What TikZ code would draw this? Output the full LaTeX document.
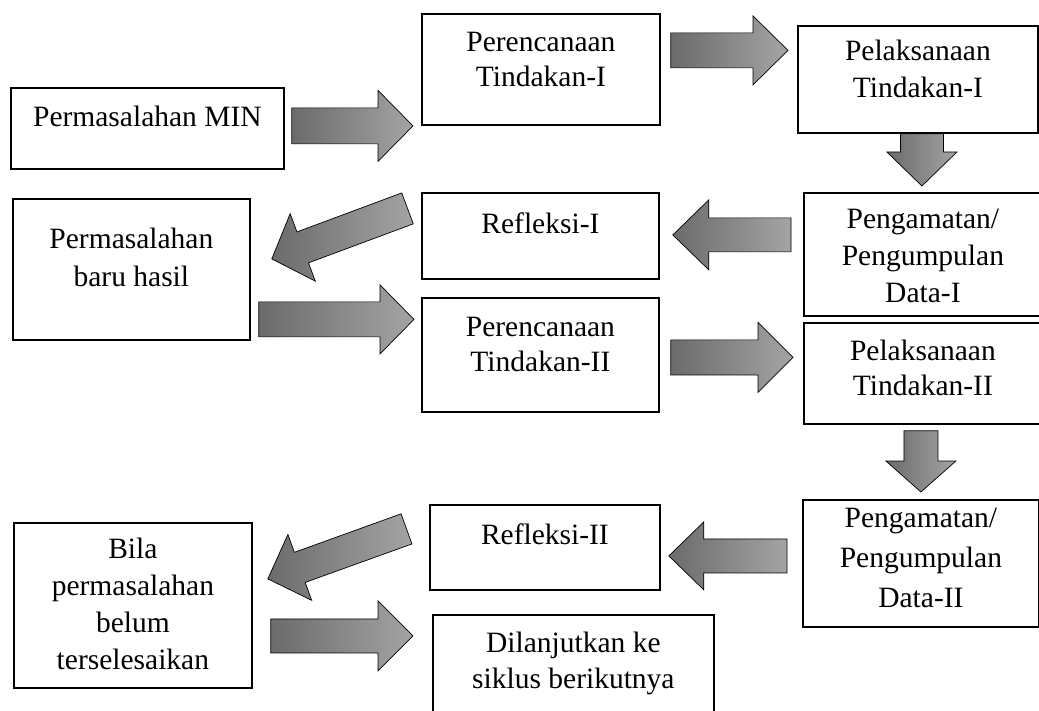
\documentclass[tikz,border=0pt]{standalone}
\usepackage{fontspec}
\setmainfont{Liberation Serif}
\usetikzlibrary{calc}
\definecolor{arrdark}{HTML}{6B6B6B}
\definecolor{arrlight}{HTML}{A4A4A4}
% block arrow: [opts]{tail}{tip}{shaft half width}{head half width}{head length}
\newcommand{\bkarrow}[6][]{%
  \coordinate (ba-h) at ($(#3)!#6!(#2)$);
  \path[barrow,#1] ($(#2)!#4!90:(#3)$) -- ($(ba-h)!#4!90:(#3)$) -- ($(ba-h)!#5!90:(#3)$)
    -- (#3) -- ($(ba-h)!#5!-90:(#3)$) -- ($(ba-h)!#4!-90:(#3)$) -- ($(#2)!#4!-90:(#3)$) -- cycle;
}
\begin{document}
\begin{tikzpicture}[x=1pt,y=-1pt,
  box/.style={draw=black, line width=1.8pt, fill=white, inner sep=0pt, anchor=north west},
  txt/.style={inner sep=0pt, align=center, anchor=north, font=\fontsize{29.5}{37}\selectfont},
  barrow/.style={draw=black, line width=0.7pt, left color=arrdark, right color=arrlight}]
\useasboundingbox (0,0) rectangle (1039,711);
\fill[white] (0,0) rectangle (1039,711);

% boxes
\node[box, minimum width=273pt, minimum height=81pt]  (b1)  at (10,87)   {};
\node[box, minimum width=238pt, minimum height=111pt] (b2)  at (421,13)  {};
\node[box, minimum width=240pt, minimum height=107pt] (b3)  at (797,25)  {};
\node[box, minimum width=238pt, minimum height=123pt] (b4)  at (803,192) {};
\node[box, minimum width=238pt, minimum height=101pt] (b5)  at (803,322) {};
\node[box, minimum width=237pt, minimum height=86pt]  (b6)  at (421,192) {};
\node[box, minimum width=237pt, minimum height=141pt] (b7)  at (12,198)  {};
\node[box, minimum width=237pt, minimum height=114pt] (b8)  at (421,297) {};
\node[box, minimum width=236pt, minimum height=127pt] (b9)  at (802,499) {};
\node[box, minimum width=230pt, minimum height=85pt]  (b10) at (429,504) {};
\node[box, minimum width=281pt, minimum height=105pt] (b11) at (432,614) {};
\node[box, minimum width=238pt, minimum height=165pt] (b12) at (13,522)  {};

% texts
\node[txt] (t1)  at ($(b1.north)+(0,19)$)  {Permasalahan MIN};
\node[txt, font=\fontsize{29.5}{35}\selectfont] (t2)  at ($(b2.north)+(0,19)$)  {Perencanaan\\Tindakan-I};
\node[txt] (t3)  at ($(b3.north)+(0,15)$)  {Pelaksanaan\\Tindakan-I};
\node[txt] (t4)  at ($(b4.north)+(0,17)$)  {Pengamatan/\\Pengumpulan\\Data-I};
\node[txt, font=\fontsize{29.5}{35}\selectfont] (t5)  at ($(b5.north)+(0,18)$)  {Pelaksanaan\\Tindakan-II};
\node[txt] (t6)  at ($(b6.north)+(0,21)$)  {Refleksi-I};
\node[txt, font=\fontsize{29.5}{38}\selectfont] (t7)  at ($(b7.north)+(0,30)$)  {Permasalahan\\baru hasil};
\node[txt, font=\fontsize{29.5}{35}\selectfont] (t8)  at ($(b8.north)+(0,20)$)  {Perencanaan\\Tindakan-II};
\node[txt, font=\fontsize{29.5}{40}\selectfont] (t9)  at ($(b9.north)+(0,9)$)   {Pengamatan/\\Pengumpulan\\Data-II};
\node[txt] (t10) at ($(b10.north)+(0,20)$) {Refleksi-II};
\node[txt, font=\fontsize{29.5}{36}\selectfont] (t11) at ($(b11.north)+(0,18)$) {Dilanjutkan ke\\siklus berikutnya};
\node[txt] (t12) at ($(b12.north)+(0,16)$) {Bila\\permasalahan\\belum\\terselesaikan};

% arrow end points
\coordinate (a1s)  at ($(b1.east)+(7,-2.5)$);
\coordinate (a1e)  at ($(b2.west |- a1s)+(-8,0)$);
\coordinate (a2s)  at ($(b2.east)+(10,-19)$);
\coordinate (a2e)  at ($(b3.west |- a2s)+(-9,0)$);
\coordinate (a3s)  at ($(b3.south)+(4,0)$);
\coordinate (a3e)  at ($(b4.north)+(-1,-6)$);
\coordinate (a4s)  at ($(b4.west)+(-12,-19.5)$);
\coordinate (a4e)  at ($(b6.east |- a4s)+(13,0)$);
\coordinate (a5s)  at ($(b6.west)+(-13.5,-27.5)$);
\coordinate (a5e)  at ($(b7.east)+(21,-10.5)$);
\coordinate (a6s)  at ($(b7.east)+(8,50)$);
\coordinate (a6e)  at ($(b8.west |- a6s)+(-7,0)$);
\coordinate (a7s)  at ($(b8.east)+(11,2.5)$);
\coordinate (a7e)  at ($(b5.west |- a7s)+(-10,0)$);
\coordinate (a8s)  at ($(b5.south)+(-2,6)$);
\coordinate (a8e)  at ($(b9.north)+(0,-7)$);
\coordinate (a9s)  at ($(b9.west)+(-15,-7.5)$);
\coordinate (a9e)  at ($(b10.east |- a9s)+(8,0)$);
\coordinate (a10s) at ($(b10.west)+(-22.5,-18.5)$);
\coordinate (a10e) at ($(b12.east)+(15,-26.5)$);
\coordinate (a11s) at ($(b12.east)+(18,30.5)$);
\coordinate (a11e) at ($(b11.west |- a11s)+(-19,0)$);

% block arrows
\bkarrow{a1s}{a1e}{18pt}{35.5pt}{35pt}
\bkarrow{a2s}{a2e}{17.5pt}{34.5pt}{35pt}
\bkarrow{a3s}{a3e}{21.5pt}{35pt}{34pt}
\bkarrow{a4s}{a4e}{17pt}{35pt}{36pt}
\bkarrow{a5s}{a5e}{16.5pt}{36pt}{33pt}
\bkarrow{a6s}{a6e}{17.5pt}{34.5pt}{34pt}
\bkarrow{a7s}{a7e}{17.5pt}{35pt}{35pt}
\bkarrow{a8s}{a8e}{17pt}{35pt}{31pt}
\bkarrow{a9s}{a9e}{17pt}{34pt}{35pt}
\bkarrow{a10s}{a10e}{16pt}{35pt}{34pt}
\bkarrow{a11s}{a11e}{17pt}{35pt}{35pt}
\end{tikzpicture}
\end{document}
